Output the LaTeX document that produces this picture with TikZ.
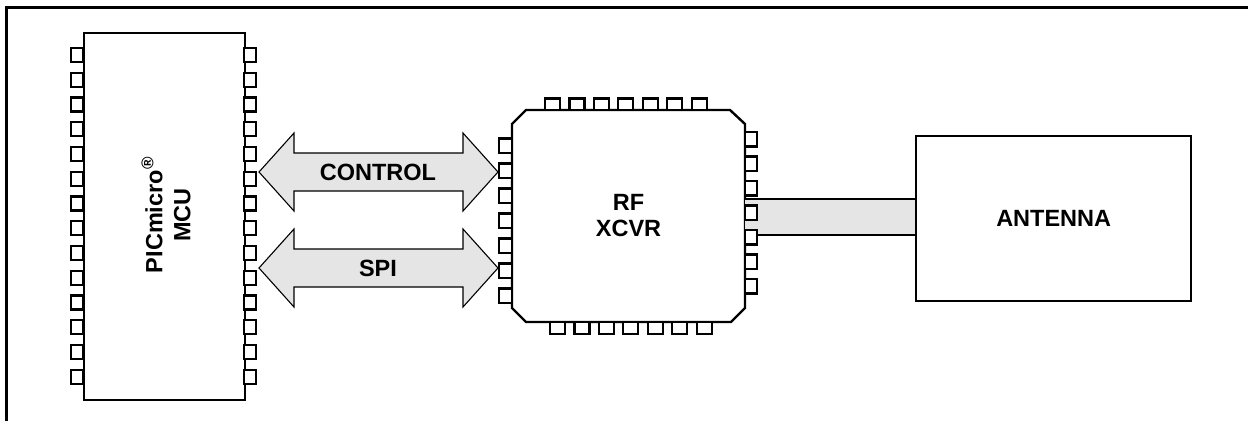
\documentclass[tikz,border=0pt]{standalone}
\usepackage{fontspec}
\setmainfont{Liberation Sans}
\definecolor{busgrey}{RGB}{229,229,229}
\begin{document}
\begin{tikzpicture}[x=1pt,y=-1pt, line join=miter,
  outline/.style={draw=black, line width=2.4pt},
  pin/.style={draw=black, fill=white, line width=2.2pt},
  bus/.style={draw=black, fill=busgrey, line width=1.1pt},
  lbl/.style={font=\fontsize{23.5}{28}\selectfont\bfseries, align=center, inner sep=0pt}]
\useasboundingbox (0,0) rectangle (1248,421);
% frame
\draw[outline] (6.5,421) -- (6.5,7.5) -- (1248,7.5);

% MCU
\node[outline, minimum width=161pt, minimum height=367pt, anchor=north west, inner sep=0pt] (mcu) at (83,32) {};
\foreach \i in {0,...,13} {
  \draw[pin] (71,{48+\i*24.75}) rectangle (83,{62+\i*24.75});
  \draw[pin] (244,{48+\i*24.75}) rectangle (256,{62+\i*24.75});
}
\node[lbl, rotate=90] (mcul) at (166,215) {PICmicro\textsuperscript{\fontsize{17}{17}\selectfont ®}\\MCU};

% buses
\draw[bus] (259,172) -- (294,133) -- (294,153) -- (463,153) -- (463,133) -- (498,172)
  -- (463,211) -- (463,191) -- (294,191) -- (294,211) -- cycle;
\draw[bus] (259,268) -- (294,229) -- (294,249) -- (463,249) -- (463,229) -- (498,268)
  -- (463,307) -- (463,287) -- (294,287) -- (294,307) -- cycle;
\node[lbl] (ctl) at (378,172) {CONTROL};
\node[lbl] (spi) at (378,268) {SPI};

% RF transceiver
\draw[outline] (526,110) -- (730,110) -- (745,124) -- (745,308) -- (731,322) -- (526,322)
  -- (512,308) -- (512,124) -- cycle;
\node[lbl, font=\fontsize{23.5}{26}\selectfont\bfseries] (xcvr) at (628.5,216) {RF\\XCVR};

% antenna feed
\coordinate (f1) at (745,199);
\coordinate (f2) at (915,235);
\fill[busgrey] (f1) rectangle (f2);
\draw[outline] (f1) -- (f1 -| f2);
\draw[outline] (f1 |- f2) -- (f2);

\foreach \i in {0,...,6} {
  \draw[pin] ({545+\i*24.45},98.5) rectangle ({560+\i*24.45},110);
  \draw[pin] ({550+\i*24.45},322) rectangle ({565+\i*24.45},334);
  \draw[pin] (499,{138.5+\i*25}) rectangle (512,{153+\i*25});
  \draw[pin] (745,{132+\i*24.5}) rectangle (757,{146.5+\i*24.5});
}

% antenna
\node[outline, minimum width=275pt, minimum height=165pt, anchor=north west, inner sep=0pt] (ant) at (915,135) {};
\node[lbl] (antl) at (ant.center) {ANTENNA};
\end{tikzpicture}
\end{document}
